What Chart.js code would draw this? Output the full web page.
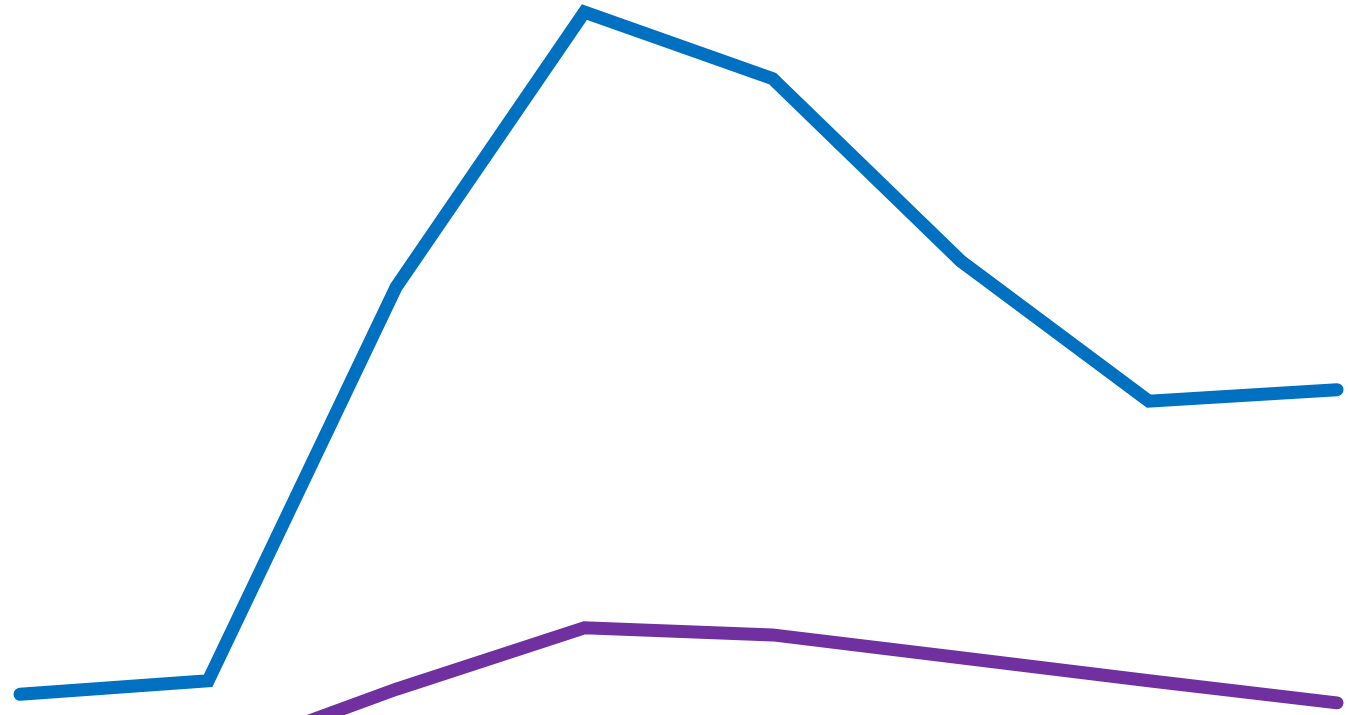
<!DOCTYPE html>
<html>
<head>
<meta charset="utf-8">
<script src="https://cdn.jsdelivr.net/npm/chart.js@4/dist/chart.umd.min.js"></script>
<style>
  html, body { margin: 0; padding: 0; background: #ffffff; }
  #wrap { width: 1348px; height: 715px; position: relative; }
</style>
</head>
<body>
<div id="wrap"><canvas id="lineChart"></canvas></div>
<script>
// categories (no visible labels in the picture)
const labels = ['1', '2', '3', '4', '5', '6', '7', '8'];
// series values
const blueSeries = [2.9, 4.8, 59.9, 98.3, 89.0, 63.5, 43.9, 45.5];
const purpleSeries = [-6.5, -6.0, 3.6, 12.2, 11.2, 8.0, 4.8, 1.7];

document.addEventListener('DOMContentLoaded', function () {
    const ctx = document.getElementById('lineChart').getContext('2d');
    new Chart(ctx, {
        type: 'line',
        data: {
            labels: labels,
            datasets: [
                {
                    label: 'Series 1',
                    data: blueSeries,
                    borderColor: '#0070C0',
                    borderWidth: 13,
                    borderCapStyle: 'round',
                    pointRadius: 0,
                    fill: false,
                    tension: 0,
                    clip: false
                },
                {
                    label: 'Series 2',
                    data: purpleSeries,
                    borderColor: '#7030A0',
                    borderWidth: 13,
                    borderCapStyle: 'round',
                    pointRadius: 0,
                    fill: false,
                    tension: 0,
                    clip: false
                }
            ]
        },
        options: {
            responsive: true,
            maintainAspectRatio: false,
            animation: false,
            layout: { padding: { left: 20, right: 11, top: 0, bottom: 0 } },
            scales: {
                x: { display: false },
                y: { display: false, min: 0, max: 100 }
            },
            plugins: {
                legend: { display: false },
                tooltip: { enabled: false }
            }
        }
    });
});
</script>
</body>
</html>
